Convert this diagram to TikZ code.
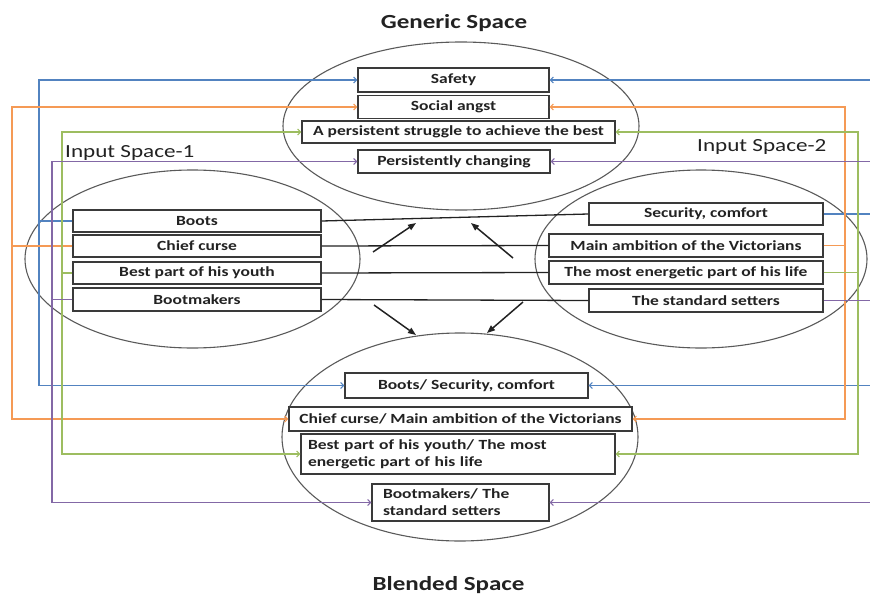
\documentclass[tikz,border=0pt]{standalone}
\usepackage{fontspec}
\setmainfont[FakeStretch=1.25]{Carlito}
\usetikzlibrary{arrows.meta,shapes.geometric}
\definecolor{lnblue}{HTML}{5283C0}
\definecolor{lnorange}{HTML}{F59A55}
\definecolor{lngreen}{HTML}{9DBD60}
\definecolor{lnpurple}{HTML}{8368A6}
\definecolor{rim}{HTML}{5A5A5A}
\definecolor{boxedge}{HTML}{3A3A3A}
\definecolor{ink}{HTML}{222222}

\begin{document}
\begin{tikzpicture}[x=1pt,y=-1pt,
  region/.style={draw=rim, line width=1.1pt, ellipse, inner sep=0pt},
  cell/.style={draw=boxedge, line width=1.4pt, fill=white, inner sep=0pt,
    text=ink, font=\fontsize{14}{17}\selectfont\bfseries},
  heading/.style={text=ink, inner sep=0pt, font=\fontsize{20}{24}\selectfont\bfseries},
  spacename/.style={text=ink, inner sep=0pt, font=\fontsize{18.5}{22}\selectfont},
  feed/.style={line width=1.05pt, -{Straight Barb[length=3pt,width=6pt]}},
  pair/.style={draw=ink, line width=1.3pt},
  flow/.style={draw=ink, line width=1.5pt, -{Triangle[length=8pt,width=6pt]}}
]
\useasboundingbox (0,0) rectangle (870,597);
\clip (0,0) rectangle (870,597);

% the four mental spaces
\node[region, minimum width=356pt, minimum height=168pt] (genericsp) at (461,126) {};
\node[region, minimum width=335pt, minimum height=178pt] (inputa) at (192.5,259) {};
\node[region, minimum width=332pt, minimum height=178pt] (inputb) at (701,259) {};
\node[region, minimum width=356pt, minimum height=208pt] (blendsp) at (460,437) {};

% headings
\node[heading, anchor=base] (gtitle) at (454,28) {Generic Space};
\node[heading, anchor=base] (btitle) at (448.5,590) {Blended Space};
\node[spacename, anchor=base west] (namea) at (65,157) {Input Space-1};
\node[spacename, anchor=base west] (nameb) at (697,151) {Input Space-2};

% generic space
\node[cell, minimum width=191pt, minimum height=24pt] (safety) at (453.5,80) {Safety};
\node[cell, minimum width=191pt, minimum height=23pt] (angst) at (453.5,107) {Social angst};
\node[cell, minimum width=313pt, minimum height=22pt] (struggle) at (458.5,132) {A persistent struggle to achieve the best};
\node[cell, minimum width=192pt, minimum height=23pt] (changing) at (454,161.5) {Persistently changing};

% input space 1
\node[cell, minimum width=248pt, minimum height=22pt] (boots) at (197,221) {Boots};
\node[cell, minimum width=248pt, minimum height=22pt] (chief) at (197,246) {Chief curse};
\node[cell, minimum width=248pt, minimum height=22pt] (youth) at (197,273) {Best part of his youth};
\node[cell, minimum width=248pt, minimum height=23pt] (makers) at (197,299.5) {Bootmakers};

% input space 2
\node[cell, minimum width=234pt, minimum height=22pt] (security) at (706,214) {Security, comfort};
\node[cell, minimum width=274pt, minimum height=23pt] (ambition) at (686,245.5) {Main ambition of the Victorians};
\node[cell, minimum width=274pt, minimum height=23pt] (energetic) at (686,272.5) {The most energetic part of his life};
\node[cell, minimum width=234pt, minimum height=23pt] (setters) at (706,300.5) {The standard setters};

% blended space
\node[cell, minimum width=243pt, minimum height=25pt] (blenda) at (466.5,385.5) {Boots/ Security, comfort};
\node[cell, minimum width=343pt, minimum height=24pt] (blendb) at (460.5,419) {Chief curse/ Main ambition of the Victorians};
\node[cell, minimum width=314pt, minimum height=40pt, text width=300pt, align=left] (blendc) at (458,454)
  {Best part of his youth/ The most\\energetic part of his life};
\node[cell, minimum width=177pt, minimum height=37pt, text width=155pt, align=left] (blendd) at (460.5,502.5)
  {Bootmakers/ The\\standard setters};

% routing columns
\coordinate (lo) at (12,0);
\coordinate (lb) at (39,0);
\coordinate (lp) at (52,0);
\coordinate (lg) at (62,0);
\coordinate (ro) at (845,0);
\coordinate (rg) at (858,0);
\coordinate (rb) at (875,0);
\coordinate (rp) at (875,0);

% cross-space mappings
\draw[pair] (boots.east) -- (security.west);
\draw[pair] (chief.east) -- (ambition.west);
\draw[pair] (youth.east) -- (energetic.west);
\draw[pair] (makers.east) -- (setters.west);

% projections from input space 1
\draw[feed, lnblue] (boots.west) -- (boots.west -| lb) |- (safety.west);
\draw[feed, lnblue] (boots.west -| lb) |- (blenda.west);
\draw[feed, lnorange] (chief.west) -- (chief.west -| lo) |- (angst.west);
\draw[feed, lnorange] (chief.west -| lo) |- (blendb.west);
\draw[feed, lngreen] (youth.west) -- (youth.west -| lg) |- (struggle.west);
\draw[feed, lngreen] (youth.west -| lg) |- (blendc.west);
\draw[feed, lnpurple] (makers.west) -- (makers.west -| lp) |- (changing.west);
\draw[feed, lnpurple] (makers.west -| lp) |- (blendd.west);

% projections from input space 2
\draw[feed, lnblue] (security.east) -- (security.east -| rb) |- (safety.east);
\draw[feed, lnblue] (security.east -| rb) |- (blenda.east);
\draw[feed, lnorange] (ambition.east) -- (ambition.east -| ro) |- (angst.east);
\draw[feed, lnorange] (ambition.east -| ro) |- (blendb.east);
\draw[feed, lngreen] (energetic.east) -- (energetic.east -| rg) |- (struggle.east);
\draw[feed, lngreen] (energetic.east -| rg) |- (blendc.east);
\draw[feed, lnpurple] (setters.east) -- (setters.east -| rp) |- (changing.east);
\draw[feed, lnpurple] (setters.east -| rp) |- (blendd.east);

% upward and downward arrows between the spaces
\coordinate (upas) at (373,252);  \coordinate (upae) at (416,223);
\coordinate (upbs) at (513,258);  \coordinate (upbe) at (471,223);
\coordinate (dnas) at (374,305);  \coordinate (dnae) at (416,335);
\coordinate (dnbs) at (523,302);  \coordinate (dnbe) at (487,333);
\draw[flow] (upas) -- (upae);
\draw[flow] (upbs) -- (upbe);
\draw[flow] (dnas) -- (dnae);
\draw[flow] (dnbs) -- (dnbe);
\end{tikzpicture}
\end{document}
